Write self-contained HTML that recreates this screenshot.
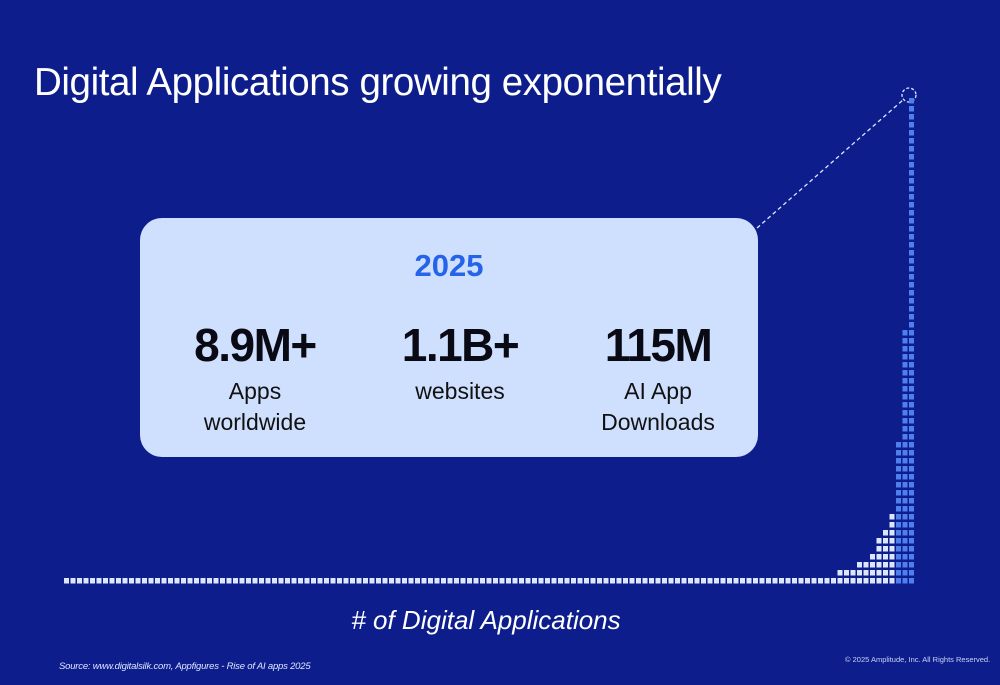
<!DOCTYPE html>
<html><head><meta charset="utf-8"><style>
body{margin:0;width:1000px;height:685px;background:#0d1e8c;overflow:hidden;position:relative;font-family:"Liberation Sans",sans-serif}
.abs{position:absolute}
#title{left:34px;top:61px;font-size:38.5px;color:#fff;font-weight:normal;letter-spacing:-0.4px;white-space:nowrap}
#card{left:140px;top:218px;width:618px;height:239px;background:#cfdffe;border-radius:22px}
.big{font-size:46px;font-weight:bold;color:#0a0a14;text-align:center;width:220px;letter-spacing:-1.5px}
.sub{font-size:23px;color:#111;text-align:center;width:220px;line-height:31px}
</style></head><body>
<div id="title" class="abs">Digital Applications growing exponentially</div>
<svg class="abs" style="left:0;top:0" width="1000" height="685">
<line x1="757" y1="228" x2="903" y2="100" stroke="#dfe6ff" stroke-width="1.3" stroke-dasharray="4,3"/>
<circle cx="909" cy="95" r="7" fill="none" stroke="#dfe6ff" stroke-width="1.3" stroke-dasharray="3,2"/>
<g id="bars"></g>
</svg>
<div id="card" class="abs">
<div class="abs" style="left:0;width:618px;top:30px;text-align:center;font-size:31px;font-weight:bold;color:#2563eb">2025</div>
<div class="abs big" style="left:5px;top:100px">8.9M+</div>
<div class="abs sub" style="left:5px;top:158px">Apps<br>worldwide</div>
<div class="abs big" style="left:210px;top:100px">1.1B+</div>
<div class="abs sub" style="left:210px;top:158px">websites</div>
<div class="abs big" style="left:408px;top:100px">115M</div>
<div class="abs sub" style="left:408px;top:158px">AI App<br>Downloads</div>
</div>
<div class="abs" style="left:0;width:972px;top:605px;text-align:center;font-size:26px;font-style:italic;color:#fff"># of Digital Applications</div>
<div class="abs" style="left:59px;top:661px;font-size:9.5px;font-style:italic;color:#dfe6ff;letter-spacing:-0.2px">Source: www.digitalsilk.com, Appfigures - Rise of AI apps 2025</div>
<div class="abs" style="left:845px;top:655px;font-size:7.5px;color:#c8d2f5;white-space:nowrap">© 2025 Amplitude, Inc.  All Rights Reserved.</div>
<script>
const tail=[1,1,2,2,2,3,3,4,6,7,9,18,32,61];
const columnCount=131;
const heights=[];
for(let i=0;i<columnCount-tail.length;i++)heights.push(1);
for(const t of tail)heights.push(t);
const x0=64,pitch=6.5,baseY=578,rowPitch=8,w=5,h=5.5;
const xs=i=>x0+i*pitch;
const ys=r=>baseY-r*rowPitch;
const g=document.getElementById('bars');
heights.forEach((hh,i)=>{
  const blue=i>=columnCount-3;
  for(let r=0;r<hh;r++){
    const el=document.createElementNS('http://www.w3.org/2000/svg','rect');
    el.setAttribute('x',xs(i));el.setAttribute('y',ys(r));
    el.setAttribute('width',w);el.setAttribute('height',h);
    el.setAttribute('fill',blue?'#4f7ef0':'#dde6ff');
    
    
    g.appendChild(el);
  }
});
</script>
</body></html>
